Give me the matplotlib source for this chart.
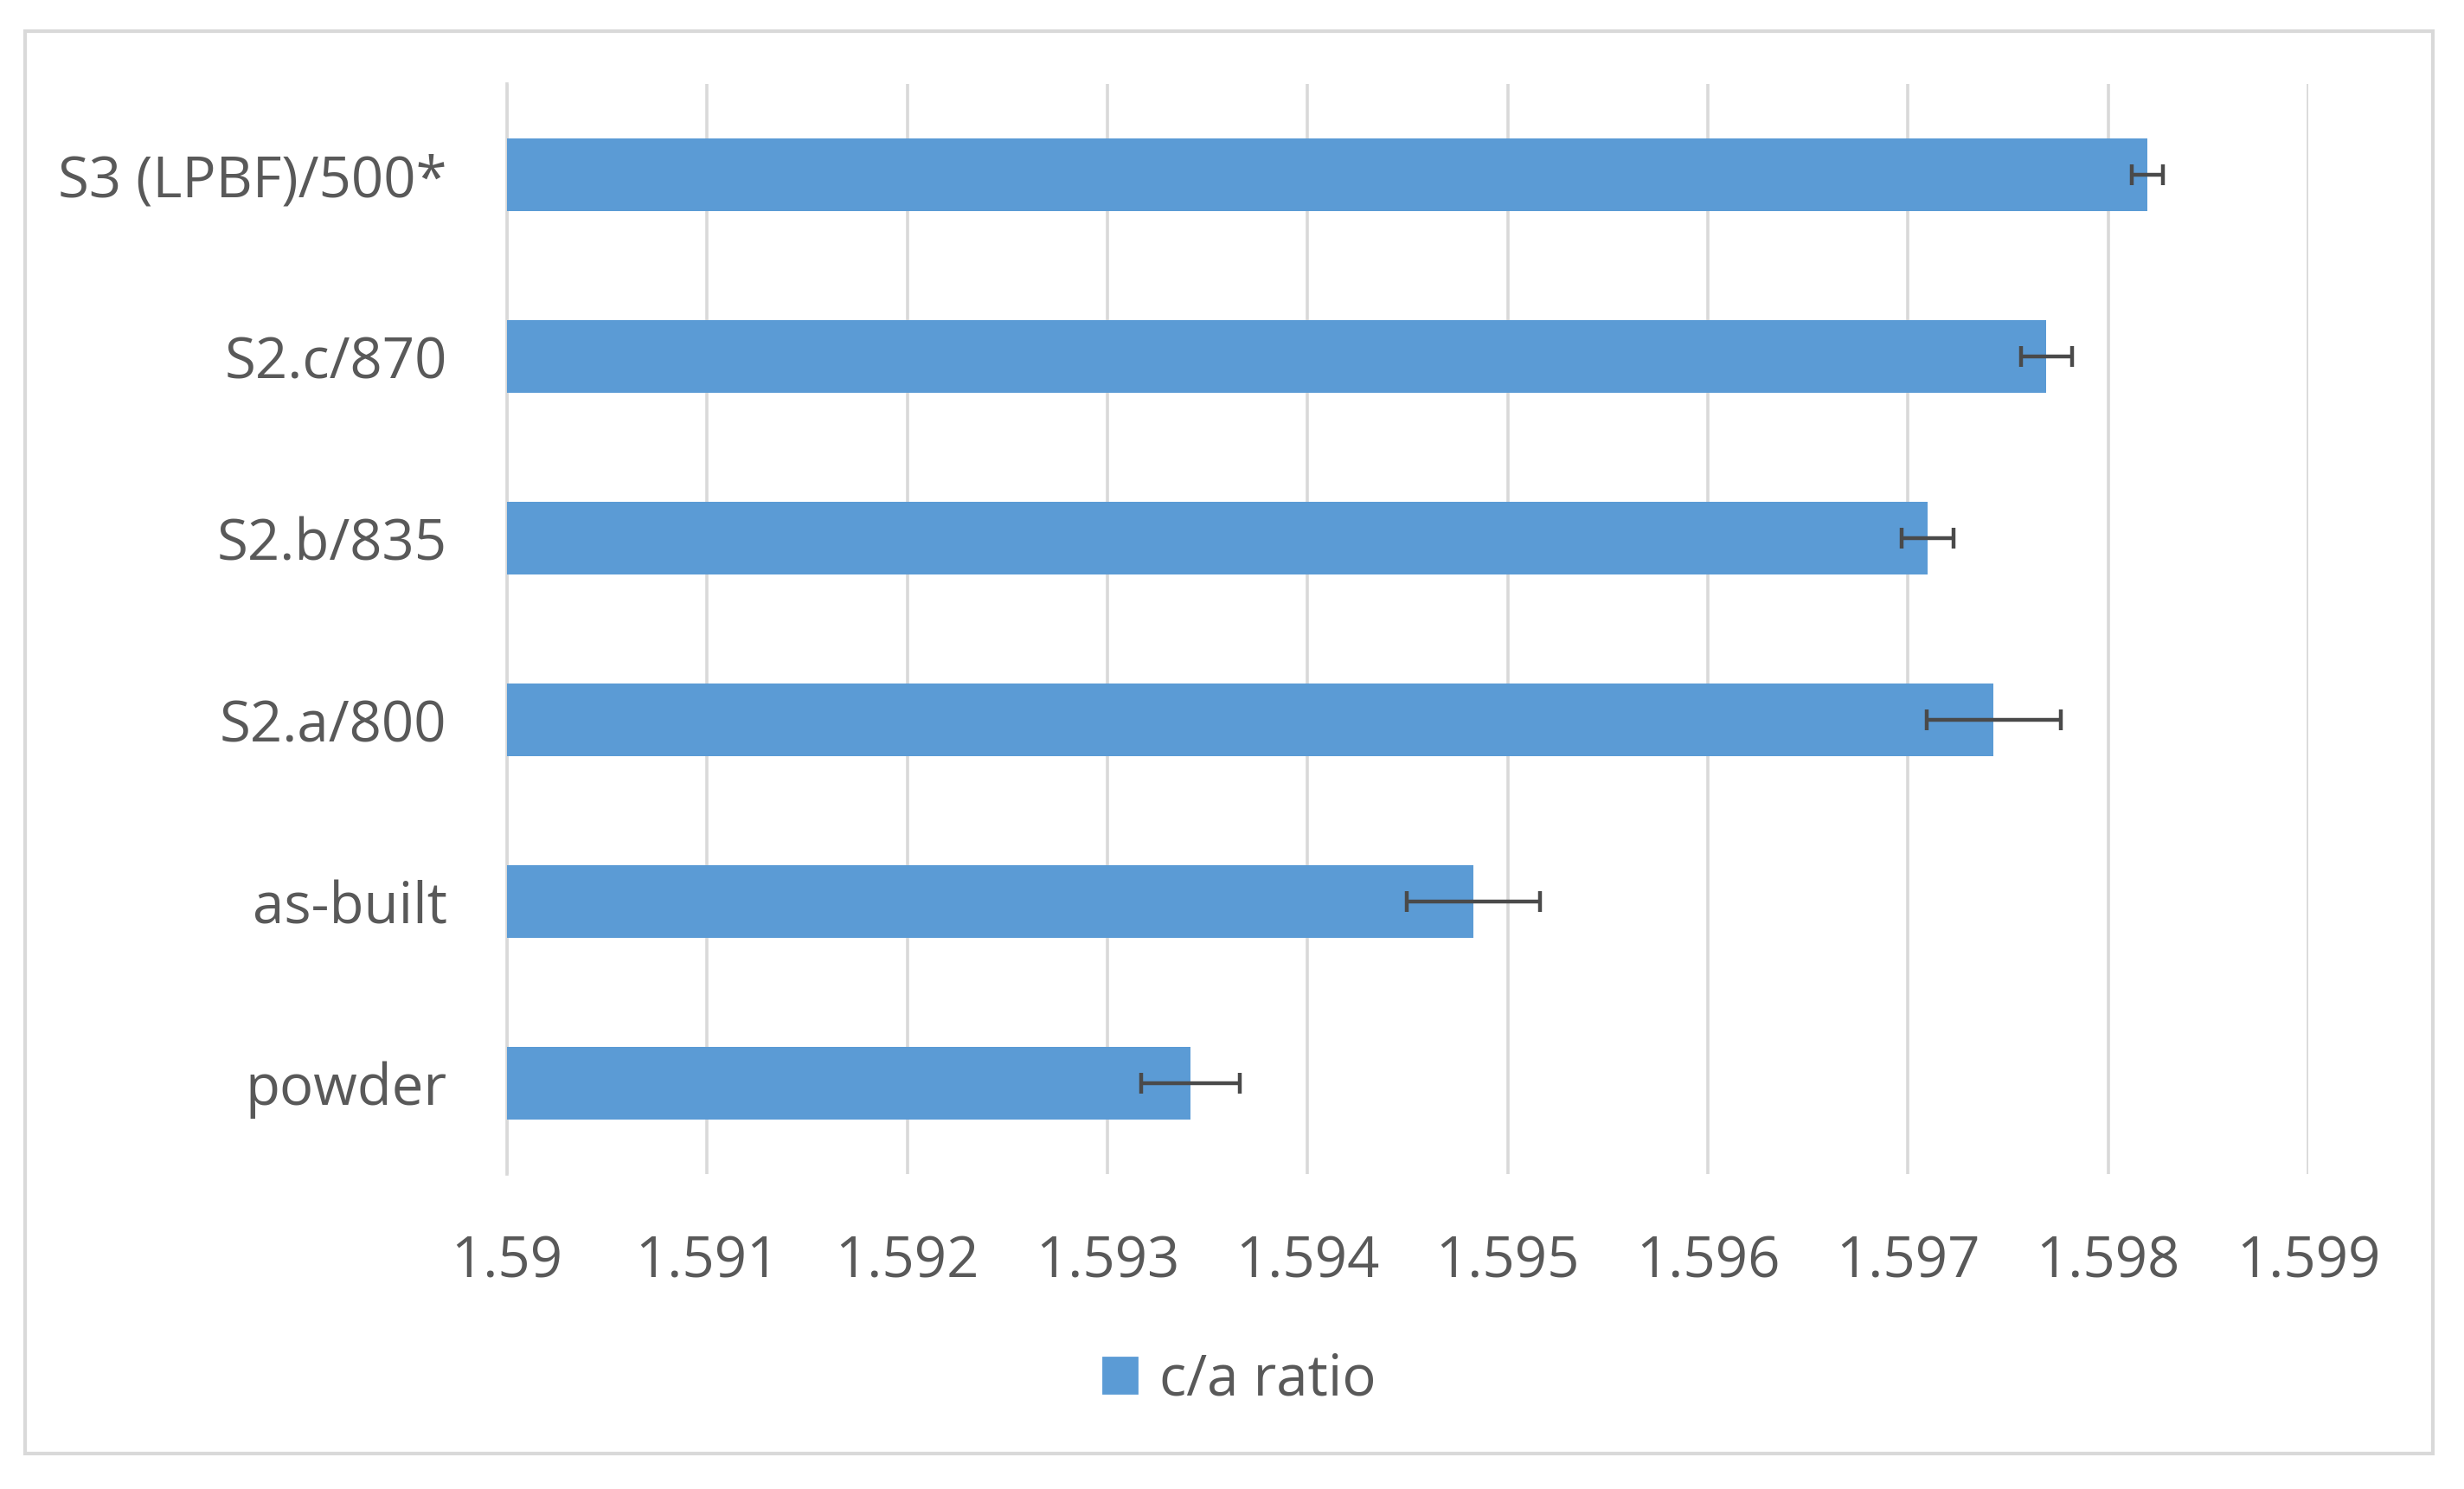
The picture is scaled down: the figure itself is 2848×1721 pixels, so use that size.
import matplotlib.pyplot as plt
from matplotlib.patches import Rectangle, Patch

# c/a ratio per sample (top to bottom as in the chart)
samples = ['S3 (LPBF)/500*', 'S2.c/870', 'S2.b/835', 'S2.a/800', 'as-built', 'powder']
ca_ratio = [1.598196, 1.597691, 1.597098, 1.597428, 1.594828, 1.593415]
ca_err = [0.000076, 0.000128, 0.000128, 0.000334, 0.000334, 0.000246]
xticks = [1.59, 1.591, 1.592, 1.593, 1.594, 1.595, 1.596, 1.597, 1.598, 1.599]

plt.rcParams['font.family'] = ['Open Sans', 'DejaVu Sans']
txt = '#595959'
bar_col = '#5B9BD5'
grid_col = '#D9D9D9'
fs = 23.5

fig = plt.figure(figsize=(14.24, 8.605), dpi=200)
ax = fig.add_axes([0.2058, 0.2115, 0.7310, 0.7321])

ypos = list(range(len(samples)))
ax.barh(ypos, ca_ratio, height=0.4, left=0, color=bar_col, zorder=3)
ax.errorbar(ca_ratio, ypos, xerr=ca_err, fmt='none', ecolor='#4a4a4a',
            elinewidth=1.6, capsize=4.2, capthick=1.6, zorder=4)

ax.set_xlim(1.59, 1.599)
ax.set_ylim(-0.5, len(samples) - 0.5)
ax.invert_yaxis()
ax.set_yticks(ypos)
ax.set_yticklabels(samples)
ax.set_xticks(xticks)
ax.set_xticklabels(['%g' % v for v in xticks])

ax.grid(axis='x', color=grid_col, linewidth=1.3, zorder=0)
for s in ['top', 'right', 'bottom']:
    ax.spines[s].set_visible(False)
ax.spines['left'].set_color(grid_col)
ax.spines['left'].set_linewidth(1.3)
ax.tick_params(axis='both', length=0, labelsize=fs, colors=txt)
ax.tick_params(axis='y', pad=25)
ax.tick_params(axis='x', pad=25)

fig.legend(handles=[Patch(color=bar_col, label='c/a ratio')], loc='center',
           bbox_to_anchor=(0.503, 0.073), frameon=False, fontsize=fs,
           labelcolor=txt, handlelength=0.6, handleheight=0.6,
           handletextpad=0.4)

# outer chart border
fig.patches.append(Rectangle((0.0102, 0.0238), 0.9772, 0.9552, transform=fig.transFigure,
                             fill=False, edgecolor=grid_col, linewidth=1.5))

fig.savefig('out.png', dpi=200, facecolor='white')
